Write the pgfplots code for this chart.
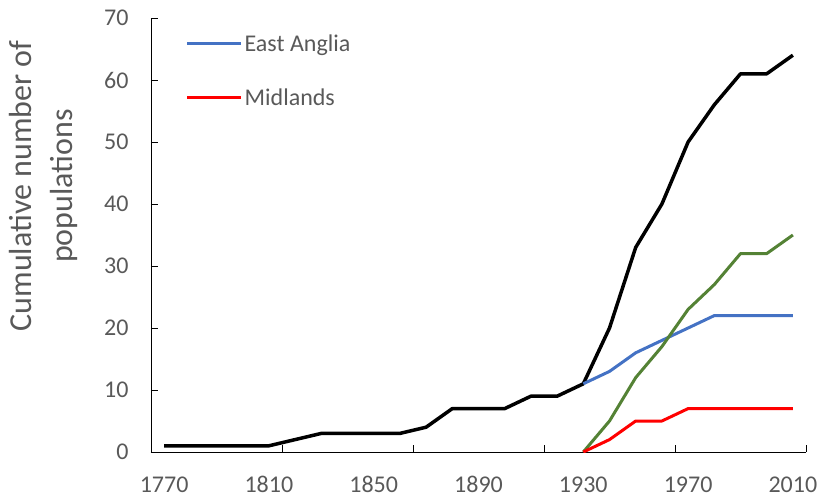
\documentclass[border=0pt]{standalone}
\usepackage{pgfplots}
\pgfplotsset{compat=1.18}
\usepackage{fontspec}
\setmainfont{Carlito}
\definecolor{txtgray}{HTML}{595959}
\definecolor{eablue}{HTML}{4472C4}
\definecolor{midred}{HTML}{FF0000}
\definecolor{othgreen}{HTML}{548235}
\begin{document}
\begin{tikzpicture}
\useasboundingbox (-151pt,-46pt) rectangle (667pt,452pt);
\begin{axis}[
  at={(0pt,0pt)}, anchor=origin,
  scale only axis,
  width=655pt, height=434pt,
  xmin=1765, xmax=2015, ymin=0, ymax=70,
  axis x line*=bottom, axis y line*=left,
  axis line style={black, line width=0.9pt},
  tick align=inside,
  major tick length=7pt,
  tick style={black, line width=0.9pt},
  xtick={1815,1865,1915,1965,2015},
  xticklabels={},
  extra x ticks={1770,1810,1850,1890,1930,1970,2010},
  extra x tick labels={1770,1810,1850,1890,1930,1970,2010},
  extra x tick style={major tick length=0pt},
  ytick={0,10,...,70},
  /pgf/number format/assume math mode=true,
  ticklabel style={font=\fontsize{24}{28}\selectfont, text=txtgray},
  xticklabel style={yshift=-21pt},
  yticklabel style={xshift=-19pt},
  ylabel={Cumulative number of\\populations},
  ylabel style={at={(rel axis cs:-0.1641,0.613)}, anchor=center, align=center,
    font=\fontsize{32}{41}\selectfont, text=txtgray},
  legend style={draw=none, fill=none, at={(rel axis cs:0.048,0.972)}, anchor=north west,
    font=\fontsize{24}{28}\selectfont, text=txtgray, row sep=32pt,
    legend cell align=left},
  legend image code/.code={\draw[#1, line width=3pt] (0pt,0pt) -- (54pt,0pt);},
  line join=round,
]
\addplot[black, line width=3.5pt, forget plot] coordinates {
(1770,1)(1780,1)(1790,1)(1800,1)(1810,1)(1820,2)(1830,3)(1840,3)(1850,3)(1860,3)
(1870,4)(1880,7)(1890,7)(1900,7)(1910,9)(1920,9)(1930,11)(1940,20)(1950,33)(1960,40)
(1970,50)(1980,56)(1990,61)(2000,61)(2010,64)};
\addplot[eablue, line width=3pt] coordinates {
(1930,11)(1940,13)(1950,16)(1960,18)(1970,20)(1980,22)(1990,22)(2000,22)(2010,22)};
\addlegendentry{East Anglia}
\addplot[othgreen, line width=3pt, forget plot] coordinates {
(1930,0)(1940,5)(1950,12)(1960,17)(1970,23)(1980,27)(1990,32)(2000,32)(2010,35)};
\addplot[midred, line width=3pt] coordinates {
(1930,0)(1940,2)(1950,5)(1960,5)(1970,7)(1980,7)(1990,7)(2000,7)(2010,7)};
\addlegendentry{Midlands}
\end{axis}
\end{tikzpicture}
\end{document}
